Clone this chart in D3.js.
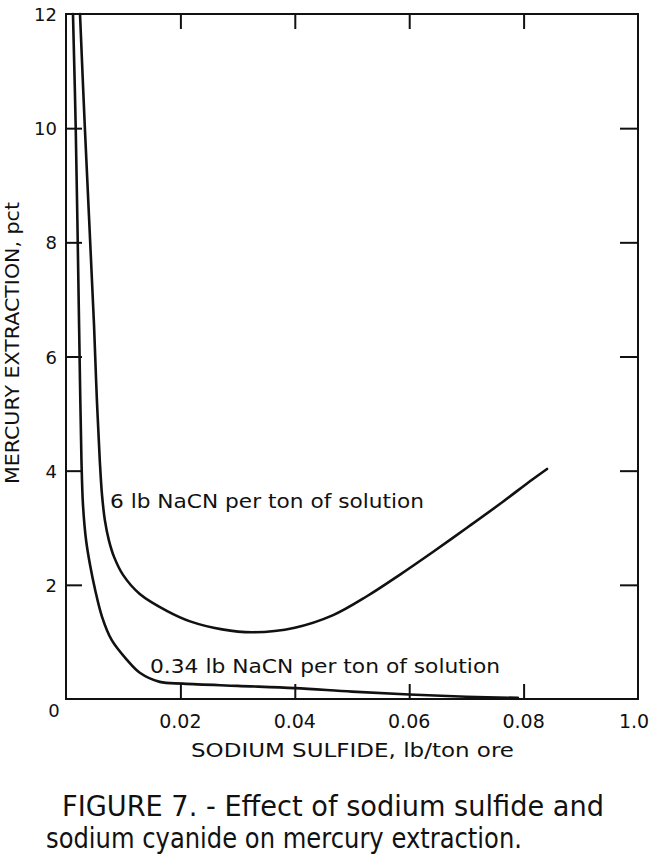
<!DOCTYPE html>
<html>
<head>
<meta charset="utf-8">
<script src="https://cdn.jsdelivr.net/npm/d3@7/dist/d3.min.js"></script>
<style>
  html, body { margin: 0; padding: 0; background: #fff; }
  svg { display: block; }
  text { font-family: "DejaVu Sans", "Liberation Sans", sans-serif; fill: #111; }
</style>
</head>
<body>
<svg id="chart" width="651" height="854"></svg>
<script>
// ---- Data ----
// Sodium sulfide (lb/ton ore) vs mercury extraction (pct)
const lowNaCN_x = [0.00122, 0.0017, 0.0023, 0.0025, 0.0027, 0.00297, 0.0035, 0.0042, 0.0051, 0.0063, 0.0080, 0.0107, 0.0129, 0.0164, 0.0205, 0.030, 0.040, 0.050, 0.060, 0.070, 0.079];
const lowNaCN_y = [12.0, 10.0, 6.47, 5.24, 4.19, 3.40, 2.79, 2.35, 1.91, 1.44, 1.03, 0.68, 0.46, 0.30, 0.27, 0.23, 0.19, 0.13, 0.08, 0.04, 0.02];
const highNaCN_x = [0.00245, 0.0033, 0.0049, 0.0054, 0.0059, 0.0063, 0.0068, 0.0075, 0.0084, 0.0100, 0.0129, 0.0177, 0.0217, 0.0273, 0.0327, 0.0400, 0.0467, 0.0526, 0.0584, 0.0642, 0.0701, 0.0759, 0.0816, 0.0841];
const highNaCN_y = [12.0, 10.0, 6.55, 5.24, 4.19, 3.57, 3.13, 2.78, 2.49, 2.17, 1.84, 1.54, 1.36, 1.22, 1.17, 1.25, 1.47, 1.80, 2.18, 2.58, 3.00, 3.42, 3.85, 4.03];
const seriesLabels = ["6 lb NaCN per ton of solution", "0.34 lb NaCN per ton of solution"];

const xTickValues = [0.02, 0.04, 0.06, 0.08, 0.10];
const xTickLabels = ["0.02", "0.04", "0.06", "0.08", "1.0"];
const yTickValues = [2, 4, 6, 8, 10, 12];
const yTickLabels = ["2", "4", "6", "8", "10", "12"];
const originLabel = "0";
const xTitle = "SODIUM SULFIDE, lb/ton ore";
const yTitle = "MERCURY EXTRACTION, pct";
const caption1 = "FIGURE 7. - Effect of sodium sulfide and";
const caption2 = "sodium cyanide on mercury extraction.";

// ---- Layout ----
const svg = d3.select("#chart");
const pLeft = 66, pRight = 638, pTop = 14, pBottom = 699;
const x = d3.scaleLinear().domain([0, 0.10]).range([pLeft, pRight]);
const y = d3.scaleLinear().domain([0, 12]).range([pBottom, pTop]);

svg.append("rect").attr("width", 651).attr("height", 854).attr("fill", "#fff");

// frame
svg.append("rect")
  .attr("x", pLeft).attr("y", pTop)
  .attr("width", pRight - pLeft).attr("height", pBottom - pTop)
  .attr("fill", "none").attr("stroke", "#111").attr("stroke-width", 2);

// axes (ticks inside, labels drawn separately)
const tickLen = 15;
svg.append("g").attr("transform", `translate(0,${pBottom})`)
  .call(d3.axisBottom(x).tickValues(xTickValues.slice(0, 4)).tickSizeInner(-tickLen).tickSizeOuter(0).tickFormat(""))
  .call(g => g.select(".domain").remove())
  .call(g => g.selectAll("line").attr("stroke", "#111").attr("stroke-width", 2));
svg.append("g").attr("transform", `translate(0,${pTop})`)
  .call(d3.axisTop(x).tickValues(xTickValues.slice(0, 4)).tickSizeInner(-tickLen).tickSizeOuter(0).tickFormat(""))
  .call(g => g.select(".domain").remove())
  .call(g => g.selectAll("line").attr("stroke", "#111").attr("stroke-width", 2));
svg.append("g").attr("transform", `translate(${pLeft},0)`)
  .call(d3.axisLeft(y).tickValues(yTickValues.slice(0, 5)).tickSizeInner(-16).tickSizeOuter(0).tickFormat(""))
  .call(g => g.select(".domain").remove())
  .call(g => g.selectAll("line").attr("stroke", "#111").attr("stroke-width", 2));
svg.append("g").attr("transform", `translate(${pRight},0)`)
  .call(d3.axisRight(y).tickValues(yTickValues.slice(0, 5)).tickSizeInner(-18).tickSizeOuter(0).tickFormat(""))
  .call(g => g.select(".domain").remove())
  .call(g => g.selectAll("line").attr("stroke", "#111").attr("stroke-width", 2));

// tick labels
svg.append("g").selectAll("text").data(xTickValues).join("text")
  .attr("x", (d, i) => x(d) + (i === 4 ? -4 : 0))
  .attr("y", 728)
  .attr("text-anchor", "middle")
  .attr("font-size", 19)
  .text((d, i) => xTickLabels[i]);
svg.append("g").selectAll("text").data(yTickValues).join("text")
  .attr("x", 57)
  .attr("y", d => y(d) + 7)
  .attr("text-anchor", "end")
  .attr("font-size", 18)
  .text((d, i) => yTickLabels[i]);
svg.append("text").attr("x", x(0) - 12).attr("y", 717)
  .attr("text-anchor", "middle").attr("font-size", 18).text(originLabel);

// curves
const line = d3.line().x(d => x(d[0])).y(d => y(d[1])).curve(d3.curveCatmullRom.alpha(0.5));
const lowPts = lowNaCN_x.map((v, i) => [v, lowNaCN_y[i]]);
const highPts = highNaCN_x.map((v, i) => [v, highNaCN_y[i]]);
svg.append("g").selectAll("path").data([highPts, lowPts]).join("path")
  .attr("d", line)
  .attr("fill", "none").attr("stroke", "#111").attr("stroke-width", 2.6)
  .attr("stroke-linejoin", "round").attr("stroke-linecap", "round");

// series labels
svg.append("text").attr("x", 110).attr("y", 508).attr("font-size", 19)
  .attr("textLength", 314).attr("lengthAdjust", "spacingAndGlyphs").text(seriesLabels[0]);
svg.append("text").attr("x", 150).attr("y", 673).attr("font-size", 19)
  .attr("textLength", 350).attr("lengthAdjust", "spacingAndGlyphs").text(seriesLabels[1]);

// axis titles
svg.append("text").attr("x", 191).attr("y", 757).attr("font-size", 19)
  .attr("textLength", 323).attr("lengthAdjust", "spacingAndGlyphs").text(xTitle);
svg.append("text").attr("transform", "translate(19,484) rotate(-90)").attr("font-size", 19)
  .attr("textLength", 282).attr("lengthAdjust", "spacingAndGlyphs").text(yTitle);

// caption
svg.append("text").attr("x", 62).attr("y", 816).attr("font-size", 28)
  .attr("textLength", 542).attr("lengthAdjust", "spacingAndGlyphs").text(caption1);
svg.append("text").attr("x", 46).attr("y", 848).attr("font-size", 28)
  .attr("textLength", 476).attr("lengthAdjust", "spacingAndGlyphs").text(caption2);
</script>
</body>
</html>
